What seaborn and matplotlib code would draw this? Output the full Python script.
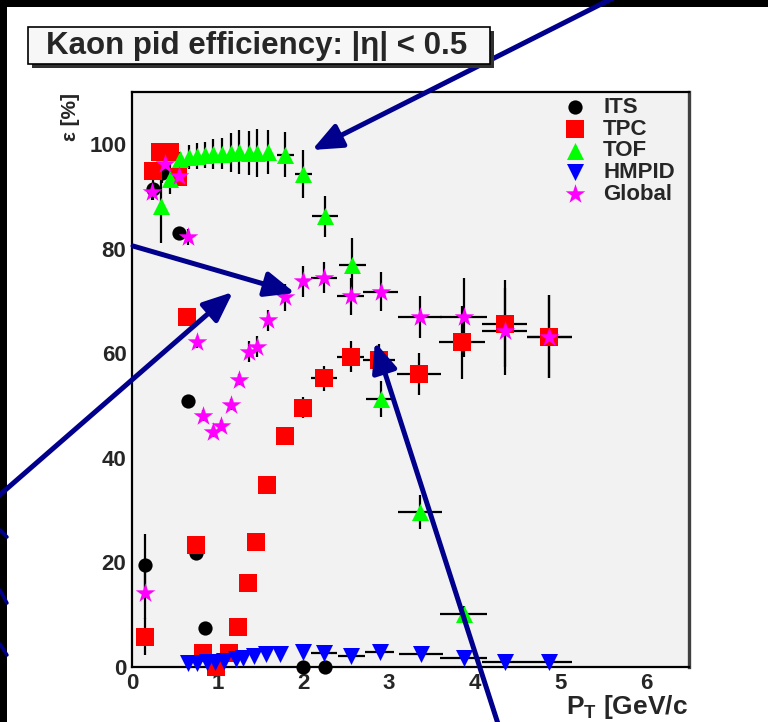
import numpy as np
import matplotlib
matplotlib.use("Agg")
import matplotlib.pyplot as plt
import seaborn as sns
from matplotlib.patches import Rectangle
from matplotlib.lines import Line2D

# ---------------- data ----------------
its_pt  = [0.15, 0.25, 0.35, 0.55, 0.65, 0.75, 0.85, 0.97, 2.0, 2.25]
its_eff = [19.5, 91.4, 94.5, 83.1, 50.8, 21.8, 7.4, 0.3, 0.0, 0.0]
its_err = [6.0, 2.0, 2.0, 1.0, 1.0, 1.0, 1.0, 0.5, 0.3, 0.3]

tpc_pt  = [0.15, 0.24, 0.33, 0.44, 0.54, 0.64, 0.75, 0.83, 0.98, 1.13, 1.24, 1.35,
           1.45, 1.58, 1.79, 2.0, 2.24, 2.55, 2.88, 3.35, 3.85, 4.35, 4.87]
tpc_eff = [5.8, 94.8, 98.6, 98.6, 93.7, 67.0, 23.4, 2.6, 0.0, 2.6, 7.7, 16.1,
           24.0, 34.9, 44.1, 49.6, 55.2, 59.4, 58.8, 56.1, 62.1, 65.7, 63.2]
tpc_yerr = [3.5, 1.5, 1.0, 1.0, 1.0, 1.0, 1.0, 1.0, 0.5, 1.0, 1.0, 1.0,
            1.0, 1.0, 1.5, 2.0, 2.4, 3.0, 3.0, 4.0, 7.0, 8.3, 8.0]
tpc_xerr = [0]*16 + [0.15, 0.16, 0.19, 0.26, 0.27, 0.26, 0.26]

tof_pt  = [0.34, 0.44, 0.56, 0.66, 0.76, 0.85, 0.95, 1.05, 1.15, 1.25, 1.36, 1.46,
           1.59, 1.79, 2.0, 2.25, 2.57, 2.9, 3.36, 3.87]
tof_eff = [88.1, 93.4, 97.1, 97.6, 97.8, 98.0, 98.1, 98.2, 98.4, 98.6, 98.4, 98.4,
           98.5, 98.0, 94.3, 86.2, 77.0, 51.3, 29.7, 10.2]
tof_yerr = [7.0, 3.0, 1.5, 2.3, 2.5, 2.5, 2.9, 3.0, 3.7, 4.2, 4.2, 4.6,
            4.2, 4.3, 4.6, 4.0, 5.0, 3.5, 3.3, 1.5]
tof_xerr = [0]*13 + [0.1, 0.1, 0.15, 0.16, 0.17, 0.26, 0.27]

hmp_pt  = [0.65, 0.76, 0.87, 0.97, 1.07, 1.21, 1.30, 1.42, 1.56, 1.73, 2.0, 2.24,
           2.56, 2.89, 3.37, 3.87, 4.35, 4.87]
hmp_eff = [0.8, 0.8, 0.9, 1.0, 1.1, 1.6, 1.8, 2.2, 2.5, 2.5, 2.9, 2.6,
           2.1, 2.9, 2.5, 1.7, 1.0, 1.0]
hmp_xerr = [0]*11 + [0.15, 0.16, 0.17, 0.26, 0.27, 0.26, 0.26]

glb_pt  = [0.15, 0.23, 0.39, 0.55, 0.65, 0.76, 0.83, 0.95, 1.04, 1.15, 1.25, 1.36,
           1.46, 1.59, 1.79, 2.0, 2.24, 2.55, 2.9, 3.36, 3.87, 4.35, 4.87]
glb_eff = [14.1, 90.8, 96.2, 93.9, 82.2, 62.1, 48.1, 45.0, 46.2, 50.2, 55.0, 60.3,
           61.3, 66.3, 70.7, 73.8, 74.5, 70.9, 71.8, 66.9, 66.9, 64.2, 63.2]
glb_yerr = [5.0, 1.5, 1.5, 1.5, 1.5, 1.0, 1.0, 1.0, 1.0, 1.0, 1.0, 2.0,
            2.0, 2.0, 2.5, 3.0, 3.0, 3.5, 3.7, 4.0, 7.5, 8.3, 8.0]
glb_xerr = [0]*16 + [0.15, 0.16, 0.2, 0.26, 0.27, 0.26, 0.26]

x_ticks = [0, 1, 2, 3, 4, 5, 6]
y_ticks = [0, 20, 40, 60, 80, 100]
title_text = "Kaon pid efficiency: |η| < 0.5"

# ---------------- style ----------------
sns.set_style("white")
plt.rcParams["font.family"] = ["Liberation Sans", "DejaVu Sans"]
plt.rcParams["font.weight"] = "bold"
plt.rcParams["mathtext.fontset"] = "custom"
plt.rcParams["mathtext.rm"] = "Liberation Sans:bold"
plt.rcParams["mathtext.bf"] = "Liberation Sans:bold"

W, H = 768, 722
fig = plt.figure(figsize=(W / 100, H / 100), dpi=100)
fig.patch.set_facecolor("white")

def fx(px):
    return px / W

def fy(py):
    return 1 - py / H

# slide black borders
fig.add_artist(Rectangle((0, fy(7)), 1, 7 / H, transform=fig.transFigure,
                         facecolor="black", edgecolor="none", zorder=0))
fig.add_artist(Rectangle((0, 0), 7 / W, 1, transform=fig.transFigure,
                         facecolor="black", edgecolor="none", zorder=0))

ax = fig.add_axes([fx(132), fy(667), fx(689) - fx(132), fy(92) - fy(667)])
ax.set_facecolor("#f2f2f2")

ekw = dict(fmt="none", ecolor="black", elinewidth=1.6, capsize=0, zorder=2)
ax.errorbar(its_pt, its_eff, yerr=its_err, **ekw)
ax.errorbar(tpc_pt, tpc_eff, yerr=tpc_yerr, xerr=tpc_xerr, **ekw)
ax.errorbar(tof_pt, tof_eff, yerr=tof_yerr, xerr=tof_xerr, **ekw)
ax.errorbar(hmp_pt, hmp_eff, xerr=hmp_xerr, **ekw)
ax.errorbar(glb_pt, glb_eff, yerr=glb_yerr, xerr=glb_xerr, **ekw)

skw = dict(ax=ax, linewidth=0, clip_on=False, zorder=3)
sns.scatterplot(x=its_pt, y=its_eff, marker="o", color="black", s=105, label="ITS", **skw)
sns.scatterplot(x=tpc_pt, y=tpc_eff, marker="s", color="#ff0000", s=170, label="TPC", **skw)
sns.scatterplot(x=tof_pt, y=tof_eff, marker="^", color="#00ff00", s=150, label="TOF", **skw)
sns.scatterplot(x=hmp_pt, y=hmp_eff, marker="v", color="#0000ff", s=150, label="HMPID", **skw)
sns.scatterplot(x=glb_pt, y=glb_eff, marker="*", color="#ff00ff", s=220, label="Global", **skw)

ax.set_xlim(0, 6.5)
ax.set_ylim(0, 110)
ax.set_xticks(x_ticks)
ax.set_xticklabels([str(t) for t in x_ticks])
ax.set_xticks(np.arange(0, 6.5, 0.2), minor=True)
ax.set_yticks(y_ticks)
ax.set_yticklabels([str(t) for t in y_ticks])
ax.set_yticks(np.arange(0, 110, 5), minor=True)
ax.tick_params(which="both", direction="in", width=1.5, color="black",
               top=False, right=False, labelsize=16, pad=4)
ax.tick_params(axis="y", which="major", length=12)
ax.tick_params(axis="y", which="minor", length=7)
ax.tick_params(axis="x", which="major", length=11)
ax.tick_params(axis="x", which="minor", length=6)
for lab in ax.get_xticklabels() + ax.get_yticklabels():
    lab.set_fontweight("bold")
for side, sp in ax.spines.items():
    sp.set_color("black")
    sp.set_linewidth(1.6)
ax.spines["right"].set_linewidth(2.4)
ax.spines["right"].set_color("#404040")
ax.set_xlabel("")
ax.set_ylabel("")

handles, labels = ax.get_legend_handles_labels()
ax.legend(handles, labels, loc="upper left",
          bbox_to_anchor=((562 - 132) / 557, (667 - 97) / 575),
          frameon=False, prop={"weight": "bold", "size": 16},
          labelspacing=0.03, handletextpad=0.65, borderpad=0,
          borderaxespad=0, handlelength=1.2)

# axis labels
fig.text(fx(70), fy(93), "ε [%]", rotation=90, ha="center", va="top",
         fontsize=15, fontweight="bold")
fig.text(fx(688), fy(714), r"P$_{\mathbf{T}}$ [GeV/c", ha="right", va="baseline",
         fontsize=19, fontweight="bold")

# title box with shadow
fig.add_artist(Rectangle((fx(32), fy(68)), fx(494) - fx(32), fy(31) - fy(68),
                         transform=fig.transFigure, facecolor="#303030",
                         edgecolor="none", zorder=5))
fig.add_artist(Rectangle((fx(28), fy(64)), fx(490) - fx(28), fy(27) - fy(64),
                         transform=fig.transFigure, facecolor="#f7f7f7",
                         edgecolor="black", linewidth=1.2, zorder=6))
fig.text(fx(257), fy(46), title_text, ha="center", va="center",
         fontsize=22.5, fontweight="bold", zorder=7)

# slide annotation arrows (figure pixel coordinates)
navy = "#00008c"
arrows = [((625, -8), (312, 150)),
          ((133, 246), (295, 293)),
          ((-5, 499), (233, 292)),
          ((500, 730), (375, 342))]
for (tx, ty), (hx, hy) in arrows:
    ax.annotate("", xy=(hx, H - hy), xycoords="figure pixels",
                xytext=(tx, H - ty), textcoords="figure pixels",
                arrowprops=dict(arrowstyle="-|>,head_length=0.9,head_width=0.38",
                                mutation_scale=20, lw=3.6, color=navy,
                                shrinkA=0, shrinkB=0),
                annotation_clip=False, zorder=10)
for (x0, y0, x1, y1) in [(0, 530, 7, 537), (0, 590, 7, 603), (0, 644, 7, 655)]:
    fig.add_artist(Line2D([fx(x0), fx(x1)], [fy(y0), fy(y1)],
                          transform=fig.transFigure, color=navy, lw=2.5))

fig.savefig("out.png", dpi=100)
